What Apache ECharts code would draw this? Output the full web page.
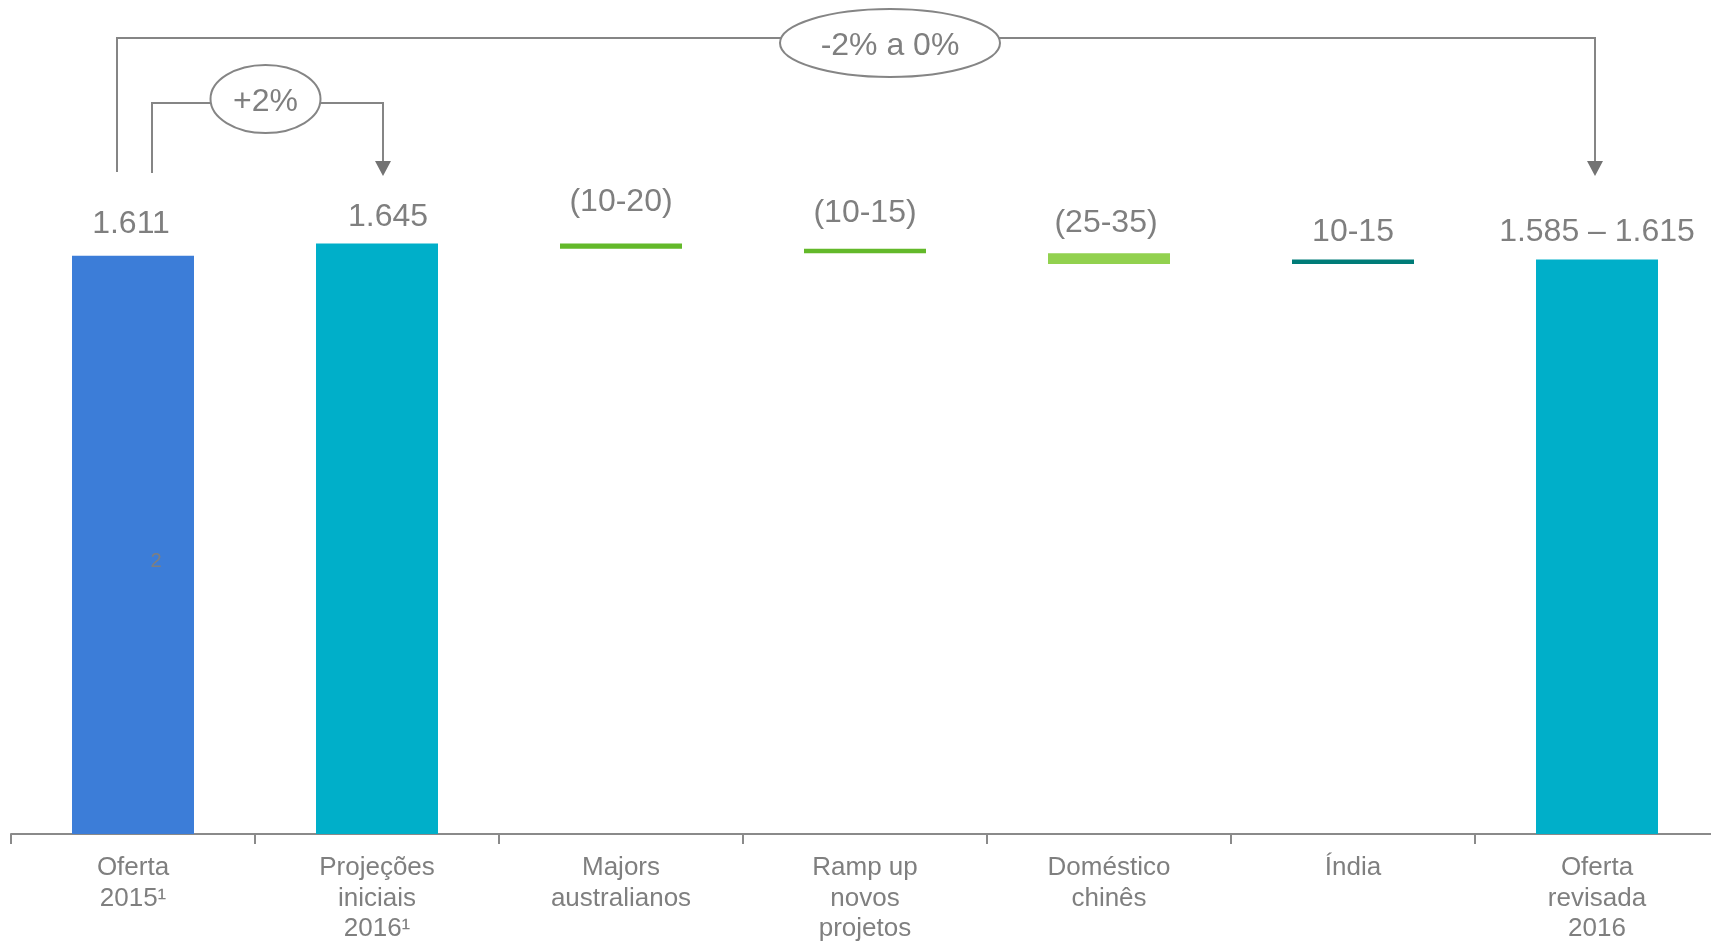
<!DOCTYPE html>
<html>
<head>
<meta charset="utf-8">
<title>Oferta 2016</title>
<script src="https://cdn.jsdelivr.net/npm/echarts@6/dist/echarts.min.js"></script>
<style>
  html, body { margin: 0; padding: 0; background: #ffffff; }
  #chart { width: 1711px; height: 943px; }
</style>
</head>
<body>
<div id="chart"></div>
<script>
// Categories along the x axis
const categories = [
  'Oferta\n2015¹',
  'Projeções\niniciais\n2016¹',
  'Majors\naustralianos',
  'Ramp up\nnovos\nprojetos',
  'Doméstico\nchinês',
  'Índia',
  'Oferta\nrevisada\n2016'
];
// Totals are absolute levels; deltas are mid-range changes from the previous level
const stepValues = [1611, 1645, -15, -12.5, -30, 12.5, 1600];
const stepKinds = ['total', 'total', 'delta', 'delta', 'delta', 'delta', 'total'];
// Text shown above each mark
const valueLabels = ['1.611', '1.645', '(10-20)', '(10-15)', '(25-35)', '10-15', '1.585 – 1.615'];
// Bracket captions
const bracketLabels = ['+2%', '-2% a 0%'];
const footnoteMark = '2';

// Styling
const barColors = ['#3c7dd8', '#00afc9', '#63b92a', '#63b92a', '#92d14f', '#007c78', '#00afc9'];
const labelDistance = [15, 10, 25, 20, 14, 11, 11];
const labelShiftX = [-2, 11, 0, 0, -3, 0, 0];
const FONT = "'Liberation Sans', Arial, sans-serif";
const GREY = '#7f7f7f';

// Build the floating bases and visible heights of the waterfall
const baseData = [];
const barData = [];
let level = 0;
stepValues.forEach((v, i) => {
  let base, height;
  if (stepKinds[i] === 'total') {
    base = 0; height = v; level = v;
  } else {
    const next = level + v;
    base = Math.min(level, next);
    height = Math.abs(v);
    level = next;
  }
  baseData.push(base);
  barData.push({
    value: height,
    itemStyle: { color: barColors[i] },
    label: { distance: labelDistance[i], offset: [labelShiftX[i], 0] }
  });
});

const chart = echarts.init(document.getElementById('chart'), null, { renderer: 'canvas' });

chart.setOption({
  animation: false,
  backgroundColor: '#ffffff',
  grid: { left: 11, right: -8, top: 116, bottom: 109, containLabel: false, outerBoundsMode: 'none' },
  xAxis: {
    type: 'category',
    data: categories,
    axisLine: { show: true, lineStyle: { color: '#8a8a8a', width: 2 } },
    axisTick: { show: true, length: 10, lineStyle: { color: '#8a8a8a', width: 2 } },
    axisLabel: {
      interval: 0,
      margin: 19,
      color: GREY,
      fontFamily: FONT,
      fontSize: 26,
      lineHeight: 30.5
    }
  },
  yAxis: {
    type: 'value',
    min: 0,
    max: 2000,
    show: false,
    splitLine: { show: false }
  },
  series: [
    {
      name: 'base',
      type: 'bar',
      stack: 'wf',
      silent: true,
      barWidth: '50%',
      itemStyle: { color: 'transparent' },
      data: baseData
    },
    {
      name: 'valor',
      type: 'bar',
      stack: 'wf',
      barWidth: '50%',
      data: barData,
      label: {
        show: true,
        position: 'top',
        color: GREY,
        fontFamily: FONT,
        fontSize: 32,
        formatter: p => valueLabels[p.dataIndex]
      }
    }
  ]
});

// Bracket annotations linked to the category positions
const cx = i => chart.convertToPixel({ xAxisIndex: 0 }, i);
const lineStyle = { stroke: '#858585', lineWidth: 2, fill: null };
const arrowFill = '#737373';

function arrowHead(x, tipY) {
  return {
    type: 'polygon',
    shape: { points: [[x - 8, tipY - 15], [x + 8, tipY - 15], [x, tipY]] },
    style: { fill: arrowFill },
    z: 10
  };
}
function caption(text, x, y) {
  return {
    type: 'text',
    z: 12,
    style: {
      text: text, x: x, y: y,
      fill: GREY, font: '32px ' + FONT,
      align: 'center', verticalAlign: 'middle',
      textAlign: 'center', textVerticalAlign: 'middle'
    }
  };
}

const outerL = cx(0) - 16;
const innerL = cx(0) + 19;
const innerR = cx(1) + 6;
const outerR = cx(6) - 2;

chart.setOption({
  graphic: [
    { type: 'polyline', z: 9, shape: { points: [[outerL, 172], [outerL, 38], [outerR, 38], [outerR, 162]] }, style: lineStyle },
    arrowHead(outerR, 176),
    { type: 'polyline', z: 9, shape: { points: [[innerL, 173], [innerL, 103], [innerR, 103], [innerR, 162]] }, style: lineStyle },
    arrowHead(innerR, 176),
    { type: 'ellipse', z: 11, shape: { cx: (innerL + innerR) / 2 - 2, cy: 99, rx: 55, ry: 34 }, style: { fill: '#ffffff', stroke: '#858585', lineWidth: 2 } },
    caption(bracketLabels[0], (innerL + innerR) / 2 - 2, 102),
    { type: 'ellipse', z: 11, shape: { cx: cx(3) + 25, cy: 43, rx: 110, ry: 34 }, style: { fill: '#ffffff', stroke: '#858585', lineWidth: 2 } },
    caption(bracketLabels[1], cx(3) + 25, 46),
    {
      type: 'text', z: 12,
      style: { text: footnoteMark, x: cx(0) + 23, y: 561, fill: GREY, font: '20px ' + FONT, align: 'center', verticalAlign: 'middle', textAlign: 'center', textVerticalAlign: 'middle' }
    }
  ]
});
</script>
</body>
</html>
